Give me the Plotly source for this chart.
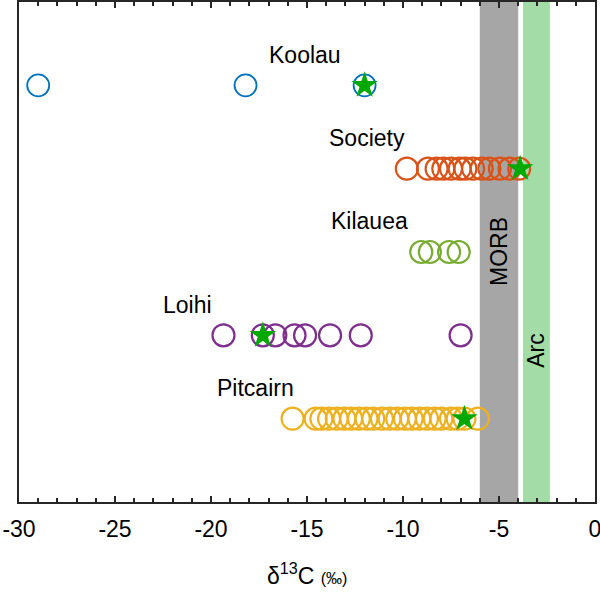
import plotly.graph_objects as go

# Data (delta 13C, permil)
koolau = [-29.0, -18.2, -12.0]
koolau_star = [-12.0]
society = [-9.8, -8.7, -8.25, -7.9, -7.5, -7.05, -6.75, -6.35, -5.9, -5.5, -4.95, -4.45, -3.95]
society_star = [-3.9]
kilauea = [-9.05, -8.6, -7.6, -7.1]
loihi = [-19.35, -17.3, -16.65, -15.65, -15.1, -13.8, -12.2, -7.0]
loihi_star = [-17.3]
pitcairn = [-15.75, -14.55, -14.25, -13.85, -13.45, -13.05, -12.7, -12.3, -11.9, -11.55,
            -11.1, -10.7, -10.3, -9.9, -9.55, -9.15, -8.75, -8.35, -8.0, -7.5, -7.15, -6.8, -6.1]
pitcairn_star = [-6.8]

groups = ["Pitcairn", "Loihi", "Kilauea", "Society", "Koolau"]
group_y = [1, 2, 3, 4, 5]
label_x = [-17.7, -21.2, -11.75, -11.9, -15.1]
morb_range = [-6.0, -4.0]
arc_range = [-3.75, -2.35]
tick_vals = [-30, -25, -20, -15, -10, -5, 0]
tick_text = ["-30", "-25", "-20", "-15", "-10", "-5", "0"]

colors = {"Koolau": "#0072BD", "Society": "#D95319", "Kilauea": "#77AC30",
          "Loihi": "#7E2F8E", "Pitcairn": "#EDB120"}
series = {"Koolau": koolau, "Society": society, "Kilauea": kilauea,
          "Loihi": loihi, "Pitcairn": pitcairn}
stars = {"Koolau": koolau_star, "Society": society_star, "Loihi": loihi_star,
         "Pitcairn": pitcairn_star}

fig = go.Figure()
ymap = dict(zip(groups, group_y))
for name in ["Koolau", "Society", "Kilauea", "Loihi", "Pitcairn"]:
    xs = series[name]
    fig.add_trace(go.Scatter(
        x=xs, y=[ymap[name]] * len(xs), mode="markers",
        marker=dict(symbol="circle-open", size=22, color=colors[name],
                    line=dict(width=1.8 if name == "Koolau" else 2.2, color=colors[name])),
        showlegend=False, hoverinfo="x"))
for name, xs in stars.items():
    fig.add_trace(go.Scatter(
        x=xs, y=[ymap[name]] * len(xs), mode="markers",
        marker=dict(symbol="star", size=20, color="#00A800", line=dict(width=0)),
        showlegend=False, hoverinfo="x"))

# bands
fig.add_shape(type="rect", xref="x", yref="paper", x0=morb_range[0], x1=morb_range[1],
              y0=0, y1=1, fillcolor="#A6A6A6", line=dict(width=0), layer="below")
fig.add_shape(type="rect", xref="x", yref="paper", x0=arc_range[0], x1=arc_range[1],
              y0=0, y1=1, fillcolor="#A3DCA6", line=dict(width=0), layer="below")

font_txt = dict(family="Liberation Sans, Arial", size=23, color="black")
for name, lx in zip(groups, label_x):
    fig.add_annotation(x=lx, y=ymap[name] + 0.37, text=name, showarrow=False, font=font_txt)
fig.add_annotation(x=sum(morb_range) / 2, y=3.0, text="MORB", textangle=-90,
                   showarrow=False, font=font_txt)
fig.add_annotation(x=sum(arc_range) / 2, y=1.82, text="Arc", textangle=-90,
                   showarrow=False, font=font_txt)

# axis title as annotation
fig.add_annotation(xref="paper", yref="paper", x=0.5, y=-0.11, yanchor="top",
                   text="δ<sup>13</sup>C <span style='font-size:16px'>(‰)</span>",
                   showarrow=False, font=font_txt)

fig.update_layout(
    width=600, height=593,
    margin=dict(l=19, r=5, t=2, b=91),
    plot_bgcolor="white", paper_bgcolor="white",
    font=dict(family="Liberation Sans, Arial", size=23, color="black"),
    xaxis=dict(range=[-30, 0], tickvals=tick_vals, ticktext=tick_text,
               showgrid=False, zeroline=False,
               automargin=False, ticklabeloverflow="allow",
               ticks="inside", ticklen=6, tickwidth=1.5, tickcolor="#262626",
               showline=True, linewidth=2, linecolor="#262626", mirror="allticks",
               minor=dict(dtick=1, tick0=-30, ticks="inside", ticklen=4, tickwidth=1.5,
                          tickcolor="#262626"),
               tickfont=dict(size=23), ticklabelstandoff=5),
    yaxis=dict(range=[0, 6], showgrid=False, zeroline=False, showticklabels=False,
               automargin=False,
               ticks="", showline=True, linewidth=2, linecolor="#262626", mirror=True),
)

fig.write_html("out.html", config={"displayModeBar": False},
               post_script="document.body.style.margin='0';document.body.style.overflow='hidden';")
